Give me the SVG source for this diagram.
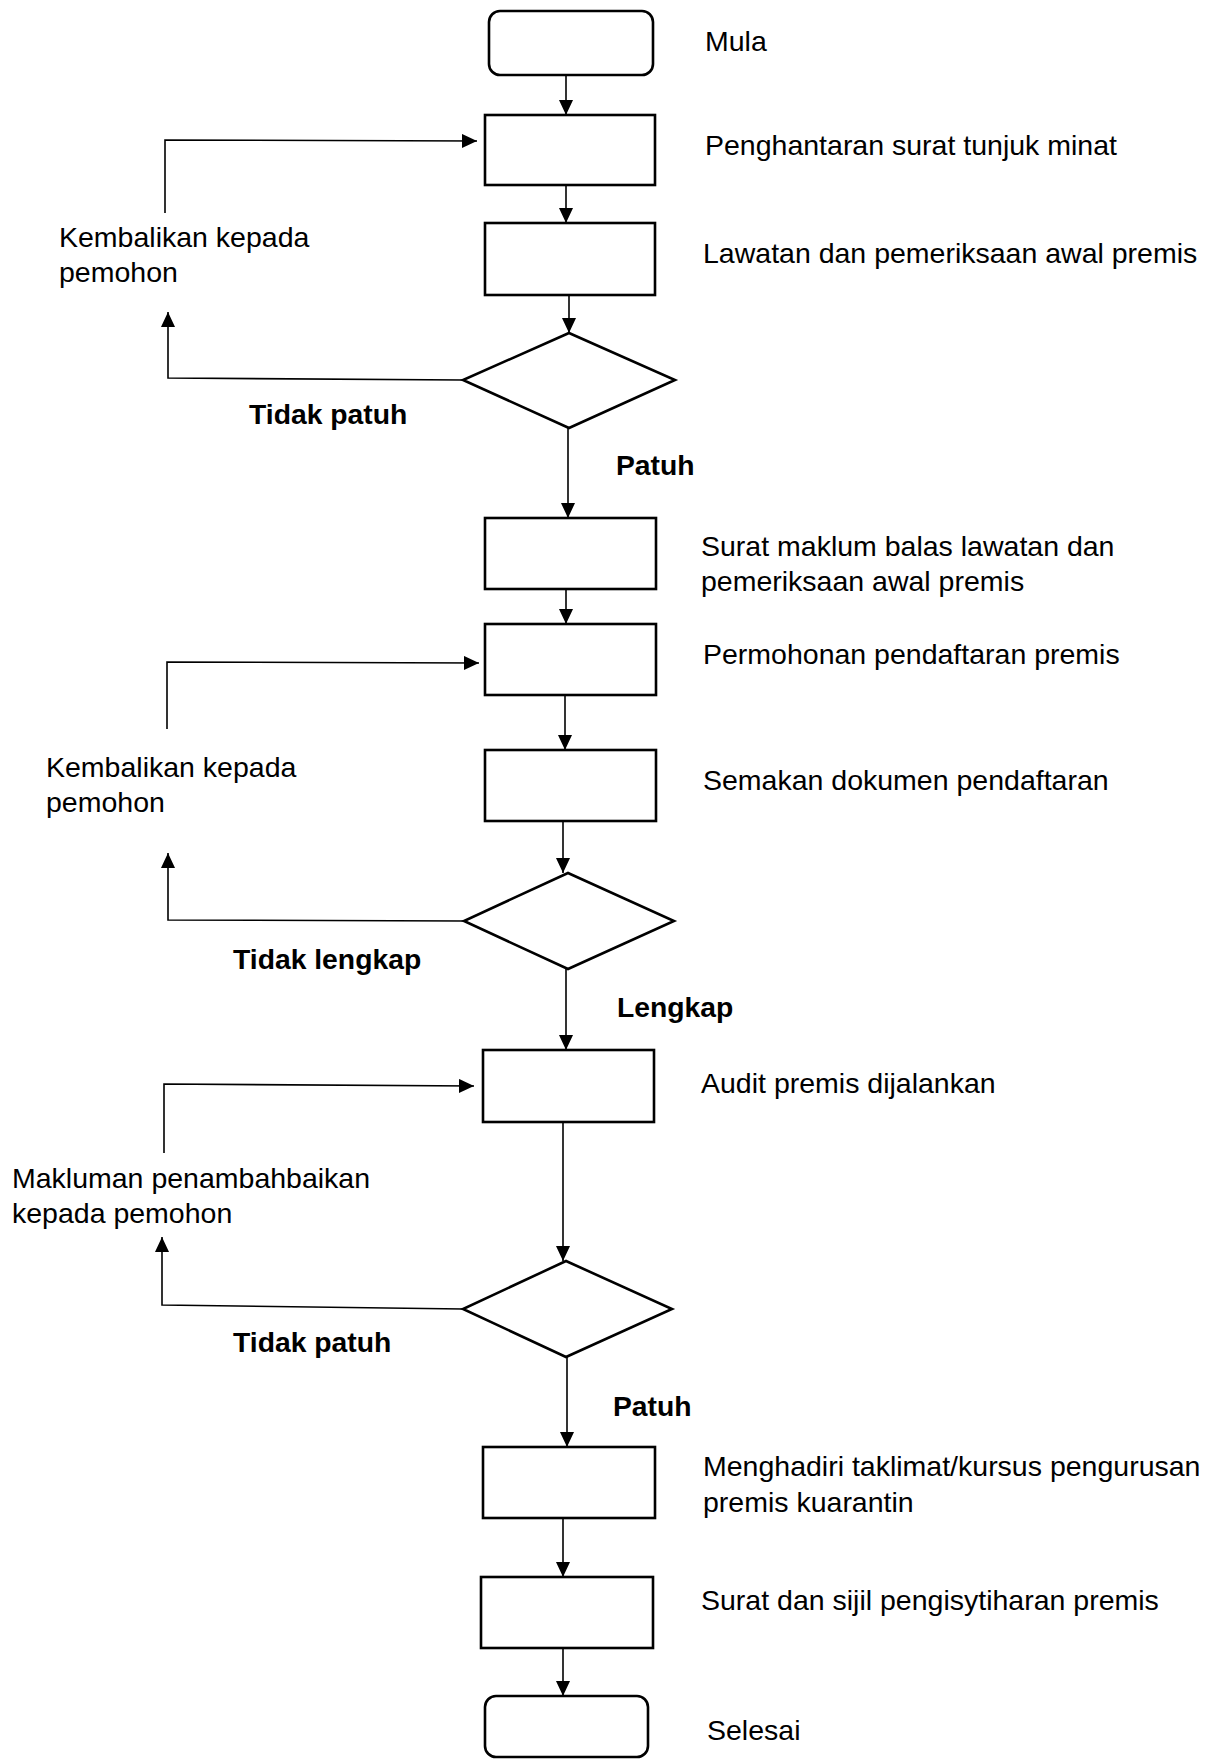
<svg xmlns="http://www.w3.org/2000/svg" width="1215" height="1759" viewBox="0 0 1215 1759">
<defs>
<style>
.box{fill:#fff;stroke:#000;stroke-width:2.6}
.ln{fill:none;stroke:#000;stroke-width:1.6}
.t{font-family:"Liberation Sans",Arial,sans-serif;font-size:28.5px;fill:#000}
.b{font-family:"Liberation Sans",Arial,sans-serif;font-size:28.3px;font-weight:bold;fill:#000}
</style>
<marker id="ah" markerUnits="userSpaceOnUse" markerWidth="16" markerHeight="14" refX="15" refY="7" orient="auto">
<path d="M0,0 L15,7 L0,14 Z" fill="#000"/>
</marker>
</defs>
<rect width="1215" height="1759" fill="#fff"/>

<g id="start"><rect class="box" x="489" y="11" width="164" height="64" rx="11"/><text class="t" x="705" y="51">Mula</text></g>
<g id="n1"><rect class="box" x="485" y="115" width="170" height="70"/><text class="t" x="705" y="155">Penghantaran surat tunjuk minat</text></g>
<g id="n2"><rect class="box" x="485" y="223" width="170" height="72"/><text class="t" x="703" y="263">Lawatan dan pemeriksaan awal premis</text></g>
<g id="d1"><polygon class="box" points="569,333 675,380 569,428 463,380"/></g>
<g id="n3"><rect class="box" x="485" y="518" width="171" height="71"/><text class="t" x="701" y="556">Surat maklum balas lawatan dan</text><text class="t" x="701" y="591">pemeriksaan awal premis</text></g>
<g id="n4"><rect class="box" x="485" y="624" width="171" height="71"/><text class="t" x="703" y="664">Permohonan pendaftaran premis</text></g>
<g id="n5"><rect class="box" x="485" y="750" width="171" height="71"/><text class="t" x="703" y="790">Semakan dokumen pendaftaran</text></g>
<g id="d2"><polygon class="box" points="568,873 674,921 568,969 464,921"/></g>
<g id="n6"><rect class="box" x="483" y="1050" width="171" height="72"/><text class="t" x="701" y="1093">Audit premis dijalankan</text></g>
<g id="d3"><polygon class="box" points="566,1261 672,1309 566,1357 463,1309"/></g>
<g id="n7"><rect class="box" x="483" y="1447" width="172" height="71"/><text class="t" x="703" y="1476">Menghadiri taklimat/kursus pengurusan</text><text class="t" x="703" y="1512">premis kuarantin</text></g>
<g id="n8"><rect class="box" x="481" y="1577" width="172" height="71"/><text class="t" x="701" y="1610">Surat dan sijil pengisytiharan premis</text></g>
<g id="end"><rect class="box" x="485" y="1696" width="163" height="61" rx="11"/><text class="t" x="707" y="1740">Selesai</text></g>

<g id="connectors">
<line class="ln" x1="566" y1="75" x2="566" y2="115" marker-end="url(#ah)"/>
<line class="ln" x1="566" y1="185" x2="566" y2="223" marker-end="url(#ah)"/>
<line class="ln" x1="569" y1="295" x2="569" y2="333" marker-end="url(#ah)"/>
<line class="ln" x1="568" y1="428" x2="568" y2="518" marker-end="url(#ah)"/>
<line class="ln" x1="566" y1="589" x2="566" y2="624" marker-end="url(#ah)"/>
<line class="ln" x1="565" y1="695" x2="565" y2="750" marker-end="url(#ah)"/>
<line class="ln" x1="563" y1="821" x2="563" y2="873" marker-end="url(#ah)"/>
<line class="ln" x1="566" y1="969" x2="566" y2="1050" marker-end="url(#ah)"/>
<line class="ln" x1="563" y1="1122" x2="563" y2="1261" marker-end="url(#ah)"/>
<line class="ln" x1="567" y1="1357" x2="567" y2="1447" marker-end="url(#ah)"/>
<line class="ln" x1="563" y1="1518" x2="563" y2="1577" marker-end="url(#ah)"/>
<line class="ln" x1="563" y1="1648" x2="563" y2="1696" marker-end="url(#ah)"/>

<polyline class="ln" points="165,213 165,140 477,141" marker-end="url(#ah)"/>
<polyline class="ln" points="463,380 168,378 168,312" marker-end="url(#ah)"/>
<polyline class="ln" points="167,729 167,662 479,663" marker-end="url(#ah)"/>
<polyline class="ln" points="464,921 168,920 168,853" marker-end="url(#ah)"/>
<polyline class="ln" points="164,1153 164,1084 474,1086" marker-end="url(#ah)"/>
<polyline class="ln" points="463,1309 162,1305 162,1237" marker-end="url(#ah)"/>

<text class="t" x="59" y="247">Kembalikan kepada</text>
<text class="t" x="59" y="282">pemohon</text>
<text class="b" x="249" y="424">Tidak patuh</text>
<text class="b" x="616" y="475">Patuh</text>
<text class="t" x="46" y="777">Kembalikan kepada</text>
<text class="t" x="46" y="812">pemohon</text>
<text class="b" x="233" y="969">Tidak lengkap</text>
<text class="b" x="617" y="1017">Lengkap</text>
<text class="t" x="12" y="1188">Makluman penambahbaikan</text>
<text class="t" x="12" y="1223">kepada pemohon</text>
<text class="b" x="233" y="1352">Tidak patuh</text>
<text class="b" x="613" y="1416">Patuh</text>
</g>
</svg>
